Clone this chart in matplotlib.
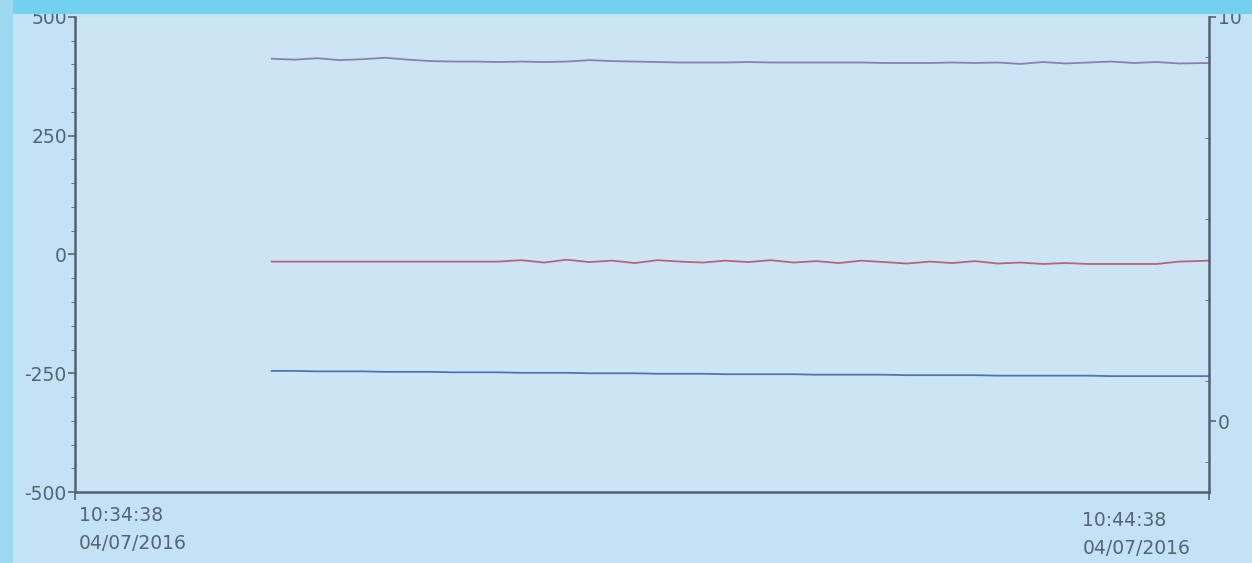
import datetime as dt
import matplotlib
matplotlib.use("Agg")
from matplotlib import pyplot as plt
from matplotlib.patches import Rectangle

# data (left axis units), one sample every 12 s
start_time = dt.datetime(2016, 7, 4, 10, 36, 22)
step_s = 12
x_min = dt.datetime(2016, 7, 4, 10, 34, 38)
x_max = dt.datetime(2016, 7, 4, 10, 44, 38)

purple_vals = [412, 410, 413, 409, 411, 414, 410, 407, 406, 406, 405, 406, 405, 406,
               409, 407, 406, 405, 404, 404, 404, 405, 404, 404, 404, 404, 404, 403,
               403, 403, 404, 403, 404, 401, 405, 402, 404, 406, 403, 405, 402, 403]
red_vals = [-15, -15, -15, -15, -15, -15, -15, -15, -15, -15, -15, -12, -17, -11,
            -16, -13, -18, -12, -15, -17, -13, -16, -12, -17, -14, -18, -13, -16,
            -19, -15, -18, -14, -19, -17, -20, -18, -20, -20, -20, -20, -15, -13]
blue_vals = [-245, -245, -246, -246, -246, -247, -247, -247, -248, -248, -248, -249,
             -249, -249, -250, -250, -250, -251, -251, -251, -252, -252, -252, -252,
             -253, -253, -253, -253, -254, -254, -254, -254, -255, -255, -255, -255,
             -255, -256, -256, -256, -256, -256]

left_ticks = [-500, -250, 0, 250, 500]
right_ticks = [0, 10]
x_labels = ["10:34:38\n04/07/2016", "10:44:38\n04/07/2016"]

times = [start_time + dt.timedelta(seconds=step_s * i) for i in range(len(purple_vals))]
times[-1] = x_max

plt.rcParams["axes.unicode_minus"] = False
txt = "#566475"
fs = 13.5
fig = plt.figure(figsize=(12.52, 5.63), dpi=100, facecolor="#c3e2f5")
fig.patches.append(Rectangle((0, 0.975), 1, 0.025, transform=fig.transFigure,
                             facecolor="#74d0ef", edgecolor="none", zorder=0))
fig.patches.append(Rectangle((0, 0), 0.01, 1, transform=fig.transFigure,
                             facecolor="#9cd9f1", edgecolor="none", zorder=0))
ax = fig.add_axes([0.060, 0.126, 0.906, 0.844])
ax.set_facecolor("#cbe5f5")

ax.plot(times, purple_vals, color="#8f7db3", lw=1.3)
ax.plot(times, red_vals, color="#b9627c", lw=1.3)
ax.plot(times, blue_vals, color="#4f74b0", lw=1.3)

ax.set_xlim(x_min, x_max)
ax.set_ylim(-500, 500)
ax.set_yticks(left_ticks)
ax.set_yticks(range(-500, 501, 50), minor=True)
ax.tick_params(axis="y", colors=txt, labelsize=fs, length=5, width=1.2, pad=1)
ax.tick_params(axis="y", which="minor", length=3, color=txt)
ax.set_xticks([x_min, x_max])
ax.set_xticklabels([])
ax.tick_params(axis="x", length=6, color=txt, width=1.2)
ax.spines["top"].set_visible(False)
for s in ["left", "bottom", "right"]:
    ax.spines[s].set_color("#55606e")
    ax.spines[s].set_linewidth(1.8)

ax.text(0.003, -0.03, x_labels[0], transform=ax.transAxes, ha="left", va="top",
        fontsize=fs, color=txt, linespacing=1.6)
ax.text(0.888, -0.04, x_labels[1], transform=ax.transAxes, ha="left", va="top",
        fontsize=fs, color=txt, linespacing=1.6)

ax2 = ax.twinx()
ax2.set_ylim(-1.75, 10)
ax2.set_yticks(right_ticks)
ax2.set_yticks(range(-1, 11, 2), minor=True)
ax2.tick_params(axis="y", colors=txt, labelsize=fs, length=5, width=1.2, pad=1)
ax2.tick_params(axis="y", which="minor", length=3, direction="in", color=txt)
for s in ax2.spines.values():
    s.set_visible(False)

fig.savefig("out.png", dpi=100, facecolor=fig.get_facecolor())
